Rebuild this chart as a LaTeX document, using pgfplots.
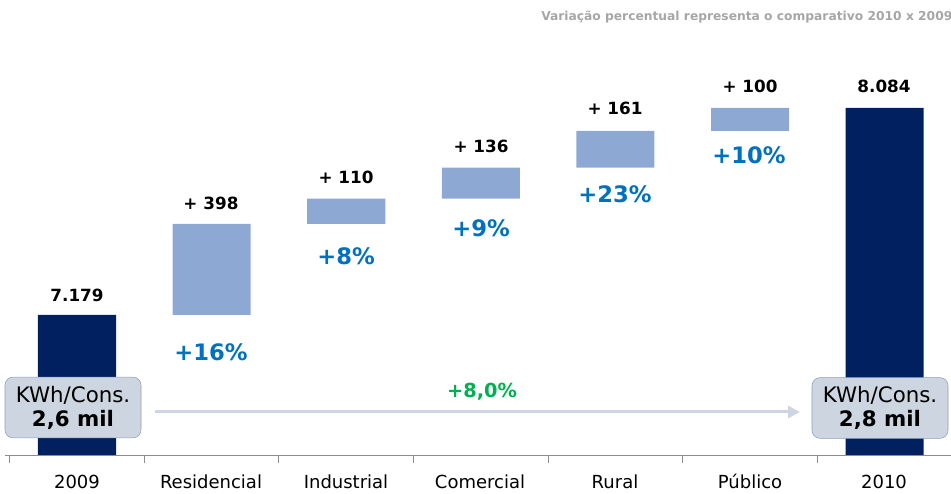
\documentclass[border=0pt]{standalone}
\usepackage{fontspec}
\setmainfont{DejaVu Sans}
\usepackage{pgfplots}
\pgfplotsset{compat=1.18}
\usetikzlibrary{arrows.meta}
\definecolor{navy}{RGB}{0,32,96}
\definecolor{lightbar}{RGB}{141,169,211}
\definecolor{pctblue}{RGB}{0,112,192}
\definecolor{pctgreen}{RGB}{0,176,80}
\definecolor{boxfill}{RGB}{205,213,225}
\definecolor{boxline}{RGB}{140,158,186}
\definecolor{arrowcol}{RGB}{205,213,226}
\definecolor{headgray}{RGB}{166,166,166}
\begin{document}
\begin{tikzpicture}
\begin{axis}[
  scale only axis, width=713.25pt, height=370.5pt,
  xmin=-0.572, xmax=6.493, ymin=6396, ymax=8556,
  hide axis, clip=false,
  ybar stacked, bar width=0.58,
]
% invisible base, totals, increments
\addplot[draw=none, fill=none] coordinates {(0,6567)(1,7179)(2,7577)(3,7687)(4,7823)(5,7984)(6,6567)};
\addplot[draw=none, fill=navy] coordinates {(0,612)(1,0)(2,0)(3,0)(4,0)(5,0)(6,1517)};
\addplot[draw=none, fill=lightbar] coordinates {(0,0)(1,398)(2,110)(3,136)(4,161)(5,100)(6,0)};

% baseline and ticks
\draw[gray!90] (rel axis cs:0.00526,0.07895) -- (rel axis cs:1,0.07895);
\draw[gray!90] (rel axis cs:0.00946,0.07895) -- (rel axis cs:0.00946,0.06275);
\draw[gray!90] (rel axis cs:0.15142,0.07895) -- (rel axis cs:0.15142,0.06275);
\draw[gray!90] (rel axis cs:0.29232,0.07895) -- (rel axis cs:0.29232,0.06275);
\draw[gray!90] (rel axis cs:0.43428,0.07895) -- (rel axis cs:0.43428,0.06275);
\draw[gray!90] (rel axis cs:0.57624,0.07895) -- (rel axis cs:0.57624,0.06275);
\draw[gray!90] (rel axis cs:0.71714,0.07895) -- (rel axis cs:0.71714,0.06275);
\draw[gray!90] (rel axis cs:0.85910,0.07895) -- (rel axis cs:0.85910,0.06275);

% category labels
\node[font=\fontsize{13.5}{15}\selectfont, text height=10pt, text depth=3pt] at (rel axis cs:0.08097,0.02024) {2009};
\node[font=\fontsize{13.5}{15}\selectfont, text height=10pt, text depth=3pt] at (rel axis cs:0.22187,0.02024) {Residencial};
\node[font=\fontsize{13.5}{15}\selectfont, text height=10pt, text depth=3pt] at (rel axis cs:0.36383,0.02024) {Industrial};
\node[font=\fontsize{13.5}{15}\selectfont, text height=10pt, text depth=3pt] at (rel axis cs:0.50473,0.02024) {Comercial};
\node[font=\fontsize{13.5}{15}\selectfont, text height=10pt, text depth=3pt] at (rel axis cs:0.64669,0.02024) {Rural};
\node[font=\fontsize{13.5}{15}\selectfont, text height=10pt, text depth=3pt] at (rel axis cs:0.78864,0.02024) {Público};
\node[font=\fontsize{13.5}{15}\selectfont, text height=10pt, text depth=3pt] at (rel axis cs:0.92955,0.02024) {2010};

% value labels
\node[font=\bfseries\fontsize{12.6}{14}\selectfont] at (rel axis cs:0.08097,0.40283) {7.179};
\node[font=\bfseries\fontsize{12.6}{14}\selectfont] at (rel axis cs:0.22187,0.58907) {+ 398};
\node[font=\bfseries\fontsize{12.6}{14}\selectfont] at (rel axis cs:0.36383,0.64170) {+ 110};
\node[font=\bfseries\fontsize{12.6}{14}\selectfont] at (rel axis cs:0.50578,0.70445) {+ 136};
\node[font=\bfseries\fontsize{12.6}{14}\selectfont] at (rel axis cs:0.64669,0.78138) {+ 161};
\node[font=\bfseries\fontsize{12.6}{14}\selectfont] at (rel axis cs:0.78864,0.82591) {+ 100};
\node[font=\bfseries\fontsize{12.6}{14}\selectfont] at (rel axis cs:0.92955,0.82591) {8.084};

% percentage labels
\node[text=pctblue, font=\bfseries\fontsize{17}{19}\selectfont] at (rel axis cs:0.22187,0.28745) {+16\%};
\node[text=pctblue, font=\bfseries\fontsize{17}{19}\selectfont] at (rel axis cs:0.36383,0.48178) {+8\%};
\node[text=pctblue, font=\bfseries\fontsize{17}{19}\selectfont] at (rel axis cs:0.50578,0.53846) {+9\%};
\node[text=pctblue, font=\bfseries\fontsize{17}{19}\selectfont] at (rel axis cs:0.64669,0.60729) {+23\%};
\node[text=pctblue, font=\bfseries\fontsize{17}{19}\selectfont] at (rel axis cs:0.78760,0.68623) {+10\%};

% overall growth arrow
\draw[arrowcol, line width=2.25pt, -{Triangle[length=9pt,width=9pt]}] (rel axis cs:0.16299,0.16599) -- (rel axis cs:0.84122,0.16599);
\node[text=pctgreen, font=\bfseries\fontsize{14.5}{16}\selectfont] at (rel axis cs:0.50683,0.20648) {+8,0\%};

% anchors for the boxes, drawn after the axis so they sit over the bars
\coordinate (boxL) at (rel axis cs:0.07676,0.17510);
\coordinate (boxR) at (rel axis cs:0.92534,0.17409);

% header note
\node[anchor=east, text=headgray, font=\bfseries\fontsize{9.2}{11}\selectfont]
  at (rel axis cs:1.00631,0.96559) {Variação percentual representa o comparativo 2010 x 2009};
\end{axis}
\begin{scope}[every node/.style={draw=boxline, fill=boxfill, rounded corners=6pt,
    minimum width=102pt, minimum height=45.5pt, inner sep=1pt, align=center,
    font=\fontsize{16}{18}\selectfont}]
\node at (boxL) {KWh/Cons.\\\textbf{2,6 mil}};
\node at (boxR) {KWh/Cons.\\\textbf{2,8 mil}};
\end{scope}
\pgfresetboundingbox
\path[use as bounding box] (current axis.south west) rectangle (current axis.north east);
\end{tikzpicture}
\end{document}
